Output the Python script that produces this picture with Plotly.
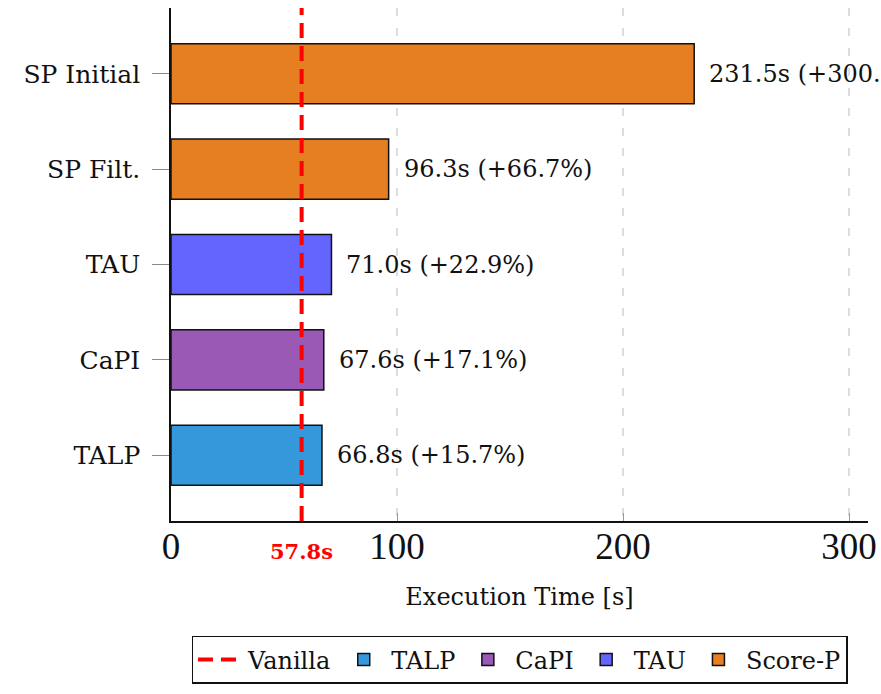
import plotly.graph_objects as go

# Data
categories = ["TALP", "CaPI", "TAU", "SP Filt.", "SP Initial"]
times = [66.8, 67.6, 71.0, 96.3, 231.5]
overheads = ["+15.7%", "+17.1%", "+22.9%", "+66.7%", "+300.5%"]
groups = ["TALP", "CaPI", "TAU", "Score-P", "Score-P"]
group_names = ["TALP", "CaPI", "TAU", "Score-P"]
group_colors = {"TALP": "#3498DB", "CaPI": "#9B59B6", "TAU": "#6464FF", "Score-P": "#E67E22"}
vanilla_time = 57.8
x_ticks = [0, 100, 200, 300]

SERIF = "DejaVu Serif"
TICKFONT = "Liberation Serif"

fig = go.Figure()

for g in group_names:
    ys = [c for c, gg in zip(categories, groups) if gg == g]
    xs = [t for t, gg in zip(times, groups) if gg == g]
    fig.add_trace(go.Bar(
        x=xs, y=ys, orientation="h", name=g,
        marker=dict(color=group_colors[g], line=dict(color="#111111", width=1.5)),
        width=0.63, legendrank=2 + group_names.index(g),
        hoverinfo="skip",
    ))

# Vanilla reference line
fig.add_shape(
    type="line", xref="x", yref="paper", x0=vanilla_time, x1=vanilla_time, y0=0, y1=1,
    line=dict(color="#FF0000", width=4, dash="15px,8px"), layer="above",
    showlegend=True, name="Vanilla", legendrank=1,
)

# Value annotations
for c, t, o in zip(categories, times, overheads):
    fig.add_annotation(
        x=t, y=c, xref="x", yref="y", text=f"{t:.1f}s ({o})",
        showarrow=False, xanchor="left", yanchor="middle", xshift=13,
        font=dict(family=SERIF, size=24, color="#111111"),
    )

# Vanilla label under axis
fig.add_annotation(
    x=vanilla_time, y=0, xref="x", yref="paper", text=f"<b>{vanilla_time:.1f}s</b>",
    showarrow=False, xanchor="center", yanchor="middle", yshift=-30,
    font=dict(family=SERIF, size=21, color="#FF0000"),
)

fig.update_layout(
    width=881, height=694,
    margin=dict(l=171, r=13, t=8, b=173, autoexpand=False),
    paper_bgcolor="white", plot_bgcolor="white",
    barmode="overlay",
    showlegend=True,
    legend=dict(
        orientation="h", x=0.5, xanchor="center", y=-0.224, yanchor="top",
        bordercolor="#111111", borderwidth=1.5,
        font=dict(family=SERIF, size=24, color="#111111"),
        traceorder="normal", itemwidth=45,
    ),
    xaxis=dict(
        automargin=False,
        range=[0, 308.4], tickvals=x_ticks, ticktext=[str(v) for v in x_ticks],
        showgrid=True, gridcolor="#DDDDDD", gridwidth=1.5, griddash="8px,12px",
        zeroline=False, showline=True, linecolor="#111111", linewidth=1.5,
        ticks="inside", ticklen=8, tickcolor="#999999", tickwidth=1,
        ticklabelstandoff=-8,
        tickfont=dict(family=TICKFONT, size=37, color="#111111"),
        title=dict(text="Execution Time [s]", font=dict(family=SERIF, size=24, color="#111111"), standoff=22),
    ),
    yaxis=dict(
        automargin=False,
        type="category", categoryorder="array", categoryarray=categories,
        range=[-0.69, 4.69],
        showgrid=False, zeroline=False, showline=True, linecolor="#111111", linewidth=1.5,
        ticks="outside", ticklen=17, tickcolor="#888888", tickwidth=1,
        ticklabelstandoff=7,
        tickfont=dict(family=SERIF, size=25, color="#111111"),
    ),
)

fig.write_html(
    "out.html",
    config={"displayModeBar": False},
    post_script="document.body.style.margin='0';document.body.style.overflow='hidden';",
)
